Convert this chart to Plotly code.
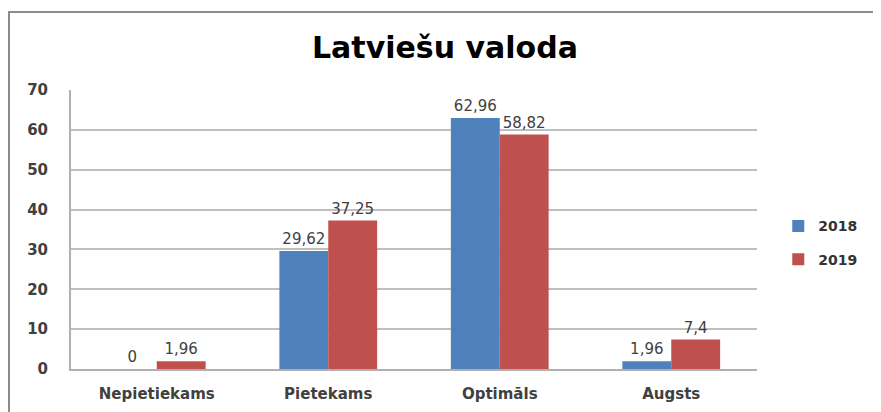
import plotly.graph_objects as go

categories = ["Nepietiekams", "Pietekams", "Optimāls", "Augsts"]
series_names = ["2018", "2019"]
values_2018 = [0, 29.62, 62.96, 1.96]
values_2019 = [1.96, 37.25, 58.82, 7.4]
y_ticks = [0, 10, 20, 30, 40, 50, 60, 70]

colors = {"2018": "#4F81BD", "2019": "#C0504D"}

def fmt(v):
    return ("%g" % v).replace(".", ",")

fig = go.Figure()
for name, vals in zip(series_names, [values_2018, values_2019]):
    fig.add_trace(go.Bar(
        x=categories, y=vals, name=name, legendgroup=name,
        marker=dict(color=colors[name], line=dict(width=0)),
        text=[fmt(v) for v in vals], textposition="outside",
        textfont=dict(family="DejaVu Sans", size=15, color="#404040"),
        cliponaxis=False,
    ))

fig.update_layout(
    width=881, height=412,
    margin=dict(l=63, r=132, t=82, b=51, autoexpand=False),
    paper_bgcolor="white", plot_bgcolor="white",
    barmode="group", bargap=0.43, bargroupgap=0,
    title=dict(text="<b>Latviešu valoda</b>", x=0.496, xref="container", y=0.905,
               yref="container", xanchor="center", yanchor="middle",
               font=dict(family="DejaVu Sans", size=30, color="#000000")),
    legend=dict(x=1.031, y=0.452, xanchor="left", yanchor="middle",
                traceorder="grouped",
                font=dict(family="DejaVu Sans", size=14, color="#333333", weight="bold"),
                itemwidth=30, tracegroupgap=12, bgcolor="rgba(0,0,0,0)"),
    showlegend=True,
    uniformtext=dict(minsize=8, mode="show"),
)
fig.update_xaxes(
    automargin=False,
    showline=True, linecolor="#B0B0B0", linewidth=2,
    ticks="", ticklabelstandoff=10,
    tickfont=dict(family="DejaVu Sans", size=15, color="#404040", weight="bold"),
)
fig.update_yaxes(
    automargin=False,
    range=[0, 70], tickvals=y_ticks,
    showgrid=True, gridcolor="#BFBFBF", gridwidth=2,
    showline=True, linecolor="#B0B0B0", linewidth=2,
    zeroline=False, ticks="", ticklabelstandoff=18,
    tickfont=dict(family="DejaVu Sans", size=15, color="#404040", weight="bold"),
)
fig.add_shape(type="rect", xref="paper", yref="paper",
              x0=1 / 686 - 63 / 686, x1=1.4, y0=-0.4, y1=(361 - 4) / 279,
              line=dict(color="#8C8C8C", width=2), fillcolor="rgba(0,0,0,0)", layer="below")

fig.write_html("out.html")
